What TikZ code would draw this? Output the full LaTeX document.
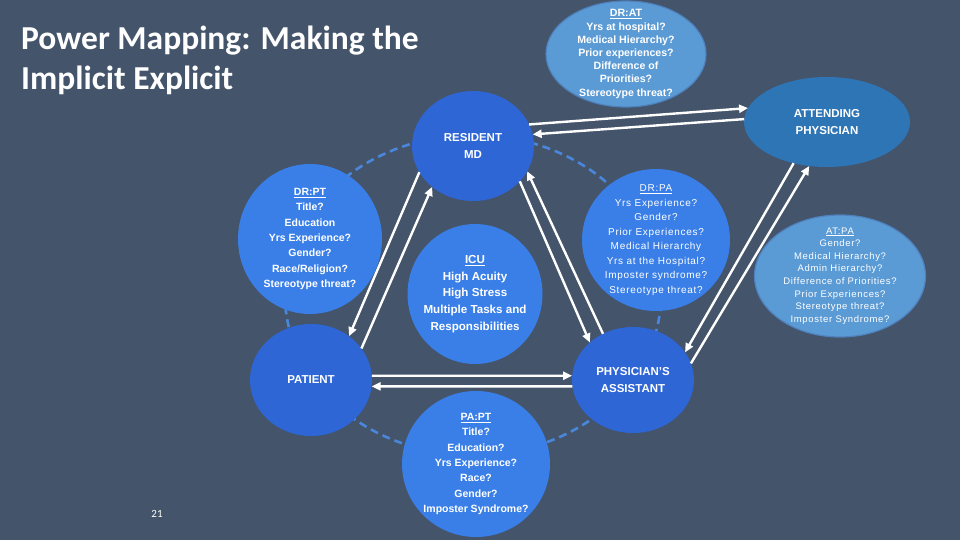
\documentclass[tikz,border=0pt]{standalone}
\usepackage{fontspec}
\setmainfont{Liberation Sans}
\newfontfamily\titlefont{Carlito}
\newfontfamily\spacedfont[LetterSpace=7]{Liberation Sans}
\usetikzlibrary{shapes.geometric,arrows.meta}

\definecolor{slidebg}{HTML}{44546A}
\definecolor{roleblue}{HTML}{2E66D6}
\definecolor{infoblue}{HTML}{3A7FE8}
\definecolor{attblue}{HTML}{2E75B6}
\definecolor{paleblue}{HTML}{5B9BD5}
\definecolor{paleedge}{HTML}{4F81BD}
\definecolor{ringblue}{HTML}{4A87DC}

\begin{document}
\begin{tikzpicture}[
        x=1pt, y=-1pt,
        rolenode/.style={
            ellipse,
            fill=roleblue,
            text=white,
            align=center,
            inner sep=0pt,
            outer sep=0pt,
            font=\bfseries\fontsize{11.5}{17}\selectfont
        },
        infonode/.style={
            ellipse,
            fill=infoblue,
            text=white,
            align=center,
            inner xsep=-10pt,
            inner ysep=-12pt,
            outer sep=0pt,
            font=\bfseries\fontsize{10.5}{15.3}\selectfont
        },
        palenode/.style={
            infonode,
            fill=paleblue,
            draw=paleedge,
            line width=1.2pt
        },
        linkarrow/.style={
            -{Triangle[length=9pt,width=8pt]},
            draw=white,
            line width=2.4pt
        }
    ]

        % Slide background
        \fill[slidebg] (0,0) rectangle (960,540);
        \useasboundingbox (0,0) rectangle (960,540);

        \node[anchor=north west, align=left, inner sep=0pt, text=white,
            font=\titlefont\bfseries\fontsize{33.5}{40}\selectfont] (title) at (21,26)
            {Power Mapping: Making the\\Implicit Explicit};
        \node[text=white, font=\titlefont\fontsize{11}{13}\selectfont]
            (pageno) at (157,514) {21};

        % Dashed ring behind the circles
        \draw[ringblue, line width=2.6pt, dash pattern=on 8pt off 5pt]
            (473,295) ellipse [x radius=188pt, y radius=160pt];

        % Roles
        \node[rolenode, minimum width=122pt, minimum height=110pt]
            (res) at (473,146) {RESIDENT\\MD};
        \node[rolenode, fill=attblue, minimum width=166pt, minimum height=90pt]
            (att) at (827,122) {ATTENDING\\PHYSICIAN};
        \node[rolenode, minimum width=122pt, minimum height=112pt]
            (pat) at (311,380) {PATIENT};
        \node[rolenode, minimum width=122pt, minimum height=106pt]
            (pa) at (633,380) {PHYSICIAN’S\\ASSISTANT};

        % Relationship questions
        \node[palenode, minimum width=160pt, minimum height=106pt,
            font=\bfseries\fontsize{10.6}{13.2}\selectfont] (drat) at (626,54)
            {\underline{DR:AT}\\Yrs at hospital?\\Medical Hierarchy?\\Prior experiences?\\Difference of\\Priorities?\\Stereotype threat?};
        \node[infonode, minimum width=144pt, minimum height=150pt]
            (drpt) at (310,239)
            {\underline{DR:PT}\\Title?\\Education\\Yrs Experience?\\Gender?\\Race/Religion?\\Stereotype threat?};
        \node[infonode, minimum width=135pt, minimum height=140pt,
            font=\bfseries\fontsize{11.6}{16.7}\selectfont] (icu) at (475,294)
            {\underline{ICU}\\High Acuity\\High Stress\\Multiple Tasks and\\Responsibilities};
        \node[infonode, minimum width=148pt, minimum height=142pt,
            font=\spacedfont\fontsize{10}{14.5}\selectfont] (drpa) at (656,240)
            {\underline{DR:PA}\\Yrs Experience?\\Gender?\\Prior Experiences?\\Medical Hierarchy\\Yrs at the Hospital?\\Imposter syndrome?\\Stereotype threat?};
        \node[palenode, minimum width=171pt, minimum height=122pt,
            font=\spacedfont\fontsize{9.5}{12.6}\selectfont] (atpa) at (840,276)
            {\underline{AT:PA}\\Gender?\\Medical Hierarchy?\\Admin Hierarchy?\\Difference of Priorities?\\Prior Experiences?\\Stereotype threat?\\Imposter Syndrome?};
        \node[infonode, minimum width=148pt, minimum height=146pt]
            (papt) at (476,464)
            {\underline{PA:PT}\\Title?\\Education?\\Yrs Experience?\\Race?\\Gender?\\Imposter Syndrome?};

        % Two-way links
        \draw[linkarrow] (res.21.6) -- (att.170.7);
        \draw[linkarrow] (att.178) -- (res.11.7);
        \draw[linkarrow] (res.-154.8) -- (pat.49);
        \draw[linkarrow] (pat.32.4) -- (res.-135.7);
        \draw[linkarrow] (res.-37) -- (pa.139.3);
        \draw[linkarrow] (pa.123.7) -- (res.-25);
        \draw[linkarrow] (att.-129) -- (pa.28.3);
        \draw[linkarrow] (pa.16.7) -- (att.-112.4);
        \draw[linkarrow] (pat.4.7) -- (pa.176);
        \draw[linkarrow] (pa.186) -- (pat.-6.4);

    \end{tikzpicture}
\end{document}
